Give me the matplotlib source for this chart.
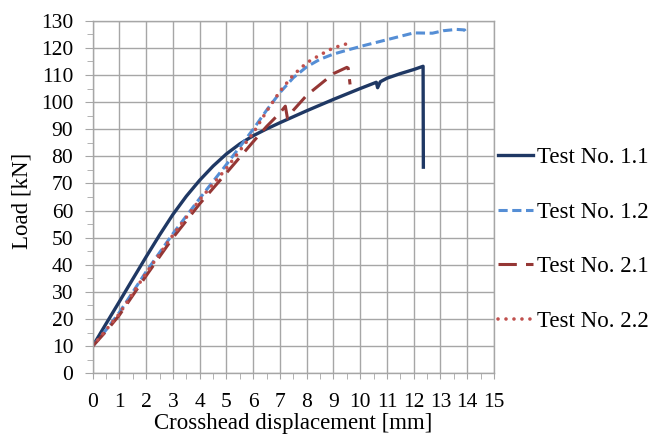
import matplotlib
matplotlib.use("Agg")
import matplotlib.pyplot as plt
from matplotlib.ticker import MultipleLocator

plt.rcParams["font.family"] = ["Liberation Serif", "DejaVu Serif"]

# ---- data ----
x_11 = [0, 0.5, 1, 1.5, 2, 2.5, 3, 3.5, 4, 4.5, 5, 5.5, 6, 6.5, 7, 8, 9, 10,
        10.6, 10.65, 10.75, 11, 11.5, 12, 12.35, 12.36]
y_11 = [10, 18.3, 26.5, 34.8, 43, 51, 58.6, 65.3, 71.2, 76.4, 80.9, 84.6,
        87.6, 90.1, 92.4, 96.8, 101, 105, 107.3, 105.3, 107.5, 108.8, 110.5,
        112, 113.2, 76]

x_12 = [0, 0.5, 1, 2, 3, 4, 5, 6, 6.5, 7, 7.5, 8, 8.5, 9, 9.6, 10.2, 11,
        12, 12.7, 13.1, 13.6, 13.9, 13.95]
y_12 = [10, 16, 22.5, 37.5, 51.5, 64.5, 77, 90, 97, 103.5, 109, 113,
        115.8, 117.7, 119.4, 121, 123, 125.5, 125.4, 126.3, 126.8, 126.6, 125.8]

x_21 = [0, 0.5, 1, 2, 3, 4, 5, 6, 6.5, 7, 7.2, 7.28, 7.5, 8, 8.5, 9, 9.5,
        9.55, 9.62]
y_21 = [10, 15.5, 21.5, 36, 50, 62.5, 73.9, 85.4, 91, 96, 98.5, 94, 97,
        102.5, 106.5, 110.5, 112.8, 112.5, 106.5]

x_22 = [0, 0.5, 1, 2, 3, 4, 5, 6, 6.5, 7, 7.5, 8, 8.5, 9, 9.5, 9.7]
y_22 = [10, 16, 22, 37, 51, 64, 75.6, 88.6, 96.6, 104, 110, 114.5, 117.4,
        120, 121.5, 121.2]

labels = ["Test No. 1.1", "Test No. 1.2", "Test No. 2.1", "Test No. 2.2"]

fig = plt.figure(figsize=(6.59, 4.36), dpi=100)
ax = fig.add_axes([0.1407, 0.1438, 0.6089, 0.8087])

ax.plot(x_11, y_11, color="#1F3864", lw=2.4, label=labels[0])
ax.plot(x_12, y_12, color="#558ED5", lw=2.2, ls=(0, (3, 1.5)), label=labels[1])
ax.plot(x_21, y_21, color="#953735", lw=2.2, ls=(0, (6, 3)), label=labels[2])
ax.plot(x_22, y_22, color="#C0504D", lw=2.6, ls=(0, (0.01, 2.2)),
        dash_capstyle="round", label=labels[3])

ax.set_xlim(0, 15)
ax.set_ylim(0, 130)
ax.xaxis.set_major_locator(MultipleLocator(1))
ax.xaxis.set_minor_locator(MultipleLocator(0.5))
ax.yaxis.set_major_locator(MultipleLocator(10))
ax.yaxis.set_minor_locator(MultipleLocator(5))

ax.grid(True, which="major", color="#A6A6A6", lw=1)
ax.set_axisbelow(True)
for s in ax.spines.values():
    s.set_color("#A6A6A6")
    s.set_linewidth(1)

ax.tick_params(axis="both", which="both", direction="out", color="#A6A6A6",
               labelsize=15.5)
ax.tick_params(axis="y", which="major", length=6, pad=8)
ax.tick_params(axis="y", which="minor", length=4)
ax.tick_params(axis="x", which="major", length=4, pad=10)
ax.tick_params(axis="x", which="minor", length=4)

ax.set_xlabel("Crosshead displacement [mm]", fontsize=16.5)
ax.set_ylabel("Load [kN]", fontsize=16.5)
ax.xaxis.set_label_coords(0.5, -0.112)
ax.yaxis.set_label_coords(-0.151, 0.49)

fig.legend(loc="center left", bbox_to_anchor=(0.756, 0.451), frameon=False,
           fontsize=16.5, handlelength=1.5, handletextpad=0.2,
           labelspacing=1.46, borderpad=0, borderaxespad=0)

fig.savefig("out.png", dpi=100)
